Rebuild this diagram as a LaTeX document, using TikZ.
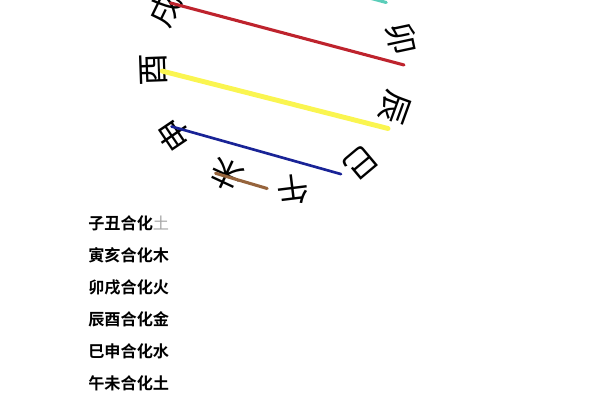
\documentclass[tikz,border=0pt]{standalone}
\usepackage{fontspec}
\newfontfamily\cjk{Noto Sans CJK SC}
\newfontfamily\cjkbold{Noto Sans CJK SC Bold}
\usetikzlibrary{positioning}
\definecolor{xuMao}{RGB}{190,35,45}
\definecolor{youChen}{RGB}{250,245,80}
\definecolor{shenSi}{RGB}{25,35,150}
\definecolor{wuWei}{RGB}{150,100,60}
\definecolor{yinHai}{RGB}{90,205,185}

\begin{document}
\begin{tikzpicture}[
                    x=0.025cm, y=0.025cm,
                    branch/.style={font=\cjk\fontsize{23}{23}\selectfont, inner sep=0pt}, % glyph top points outward
                    pair/.style={line width=2.2pt, line cap=round},
                    item/.style={font=\cjkbold\fontsize{11.5}{12}\selectfont, anchor=west, inner sep=0pt},
                    node distance=0.8cm,
                ]
                \useasboundingbox (0,0) rectangle (600,400);
                \clip (0,0) rectangle (600,400);
                \begin{scope}[shift={(278,335)}]
                    \node[branch, rotate=-78] (mao) at (12:126) {卯};
                    \node[branch, rotate=-110] (chen) at (-20:124) {辰};
                    \node[branch, rotate=-140] (si) at (-50:128) {巳};
                    \node[branch, rotate=-173] (wu) at (-83:126) {午};
                    \node[branch, rotate=155] (wei) at (-115:121) {未};
                    \node[branch, rotate=124] (shen) at (-146:125) {申};
                    \node[branch, rotate=92] (you) at (182:124) {酉};
                    \node[branch, rotate=64] (xu) at (154:126) {戌};
                    \coordinate (maoEnd) at (0:126);
                    \coordinate (chenEnd) at (-30:127);
                    \coordinate (siEnd) at (-60:126);
                    \coordinate (wuEnd) at (-95:124);
                    \coordinate (weiEnd) at (-120:125);
                    \coordinate (shenEnd) at (-150:123);
                    \coordinate (youEnd) at (183:116);
                    \coordinate (xuEnd) at (150:124);
                    \coordinate (yinEnd) at (30:125);
                    \coordinate (haiEnd) at (120:125);
                \end{scope}
                \draw[pair]
                (haiEnd) edge[yinHai] (yinEnd)
                (xuEnd) edge[xuMao] (maoEnd)
                (youEnd) edge[youChen, line width=3.5pt] (chenEnd)
                (shenEnd) edge[shenSi, line width=1.9pt] (siEnd)
                (weiEnd) edge[wuWei] (wuEnd);

                \node[item] (he1) at (88,177) {子丑合化\textcolor{gray!70}{\cjk 土}};
                \node[item, below=of he1.west, anchor=west] (he2) {寅亥合化木};
                \node[item, below=of he2.west, anchor=west] (he3) {卯戌合化火};
                \node[item, below=of he3.west, anchor=west] (he4) {辰酉合化金};
                \node[item, below=of he4.west, anchor=west] (he5) {巳申合化水};
                \node[item, below=of he5.west, anchor=west] (he6) {午未合化土};
            \end{tikzpicture}
\end{document}
